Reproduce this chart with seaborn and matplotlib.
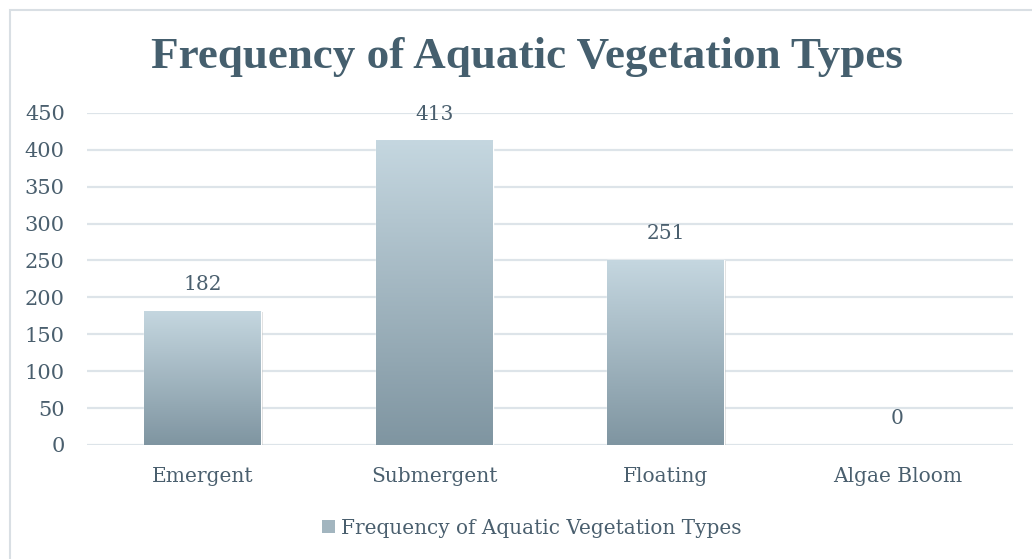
"""
Bar chart: frequency of aquatic vegetation types
"""

import numpy as np
import pandas as pd
import matplotlib
matplotlib.use('Agg')
import matplotlib.pyplot as plt
import matplotlib.patheffects as pe
from matplotlib.patches import Patch, Rectangle
from matplotlib.colors import LinearSegmentedColormap
import seaborn as sns

# Data
categories = ['Emergent', 'Submergent', 'Floating', 'Algae Bloom']
frequencies = [182, 413, 251, 0]
y_ticks = [0, 50, 100, 150, 200, 250, 300, 350, 400, 450]
series_name = 'Frequency of Aquatic Vegetation Types'

TEXT_COLOR = '#4a5f6e'
TITLE_COLOR = '#455f6e'
GRID_COLOR = '#dde4e9'
TOP_COLOR = '#c5d7e0'
BOTTOM_COLOR = '#7f95a1'

sns.set_theme(style='white')
plt.rcParams['font.family'] = ['DejaVu Serif', 'DejaVu Sans']

df = pd.DataFrame({'category': categories, 'frequency': frequencies})

fig = plt.figure(figsize=(10.32, 5.59), dpi=100)
ax = fig.add_axes([0.0843, 0.204, 0.8973, 0.594])

sns.barplot(data=df, x='category', y='frequency', color=BOTTOM_COLOR,
            width=0.505, ax=ax, zorder=2)

# gradient fill for each bar, clipped to the bar shape
grad_cmap = LinearSegmentedColormap.from_list('bar_grad', [BOTTOM_COLOR, TOP_COLOR])
gradient = np.linspace(0, 1, 256).reshape(-1, 1)
for bar in ax.patches:
    h = bar.get_height()
    if h <= 0:
        bar.set_visible(False)
        continue
    bar.set_path_effects([pe.SimplePatchShadow(offset=(1.2, -1.2), shadow_rgbFace='#9a9a9a', alpha=0.35),
                          pe.Normal()])
    x0 = bar.get_x()
    w = bar.get_width()
    im = ax.imshow(gradient, cmap=grad_cmap, origin='lower', aspect='auto',
                   extent=[x0, x0 + w, 0, h], zorder=3)
    im.set_clip_path(bar)

ax.set_xlim(-0.5, len(categories) - 0.5)
ax.set_ylim(0, 450)
ax.set_yticks(y_ticks)
ax.set_yticklabels([str(t) for t in y_ticks])
ax.grid(axis='y', color=GRID_COLOR, linewidth=1.6, zorder=0)
ax.set_axisbelow(True)
for s in ax.spines.values():
    s.set_visible(False)
ax.tick_params(axis='both', length=0, colors=TEXT_COLOR)
ax.tick_params(axis='y', pad=16, labelsize=15)
ax.tick_params(axis='x', pad=16, labelsize=14.5)
ax.set_xlabel('')
ax.set_ylabel('')

# value labels
for i, v in enumerate(frequencies):
    ax.annotate(str(v), (i, v), xytext=(0, 12), textcoords='offset points',
                ha='center', va='bottom', fontsize=14.5, color=TEXT_COLOR)

fig.text(0.511, 0.898, series_name, ha='center', va='center',
         fontsize=32.5, fontweight='bold', color=TITLE_COLOR,
         family=['Liberation Serif', 'DejaVu Serif'])

handle = Patch(facecolor='#a2b5bf', edgecolor='none')
fig.legend([handle], [series_name], loc='center', bbox_to_anchor=(0.515, 0.055),
           frameon=False, fontsize=14.4, labelcolor=TEXT_COLOR,
           handlelength=0.65, handleheight=0.65, handletextpad=0.3)

# light frame around the chart area
fig.patches.append(Rectangle((10 / 1032, -0.05), 1.1, 1.05 - 10 / 559,
                             transform=fig.transFigure, fill=False,
                             edgecolor='#d9dfe4', linewidth=1.5))

fig.savefig('out.png', dpi=100)
